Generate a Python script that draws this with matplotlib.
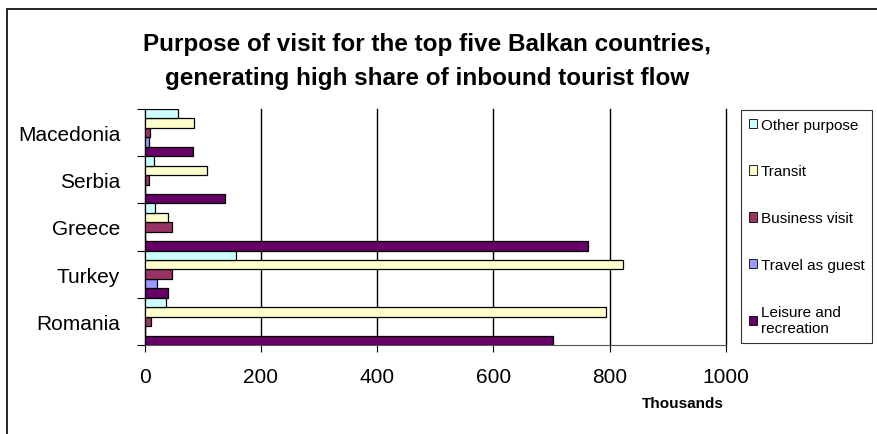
import matplotlib
matplotlib.use("Agg")
import matplotlib.pyplot as plt
import matplotlib.patches as mpatches
import numpy as np

plt.rcParams['font.family'] = ['Liberation Sans', 'DejaVu Sans']

# countries from bottom to top
countries = ['Romania', 'Turkey', 'Greece', 'Serbia', 'Macedonia']

# series (bottom to top inside each country group)
series = ['Leisure and\nrecreation', 'Travel as guest', 'Business visit', 'Transit', 'Other purpose']
leisure = [702, 40, 763, 139, 84]
guest = [0, 22, 0, 0, 8]
business = [11, 48, 47, 7, 10]
transit = [794, 823, 41, 108, 85]
other = [37, 157, 18, 16, 57]
colors = ['#660066', '#9999FF', '#993366', '#FFFFCC', '#CCFFFF']

xticks = [0, 200, 400, 600, 800, 1000]

W, H = 877, 435
fig = plt.figure(figsize=(W / 100, H / 100), dpi=100)
ax = fig.add_axes([144.5 / W, 1 - 346 / H, (726 - 144.5) / W, (346 - 110) / H])

values = [leisure, guest, business, transit, other]
n = len(series)
base = np.arange(len(countries))
for j, (vals, col) in enumerate(zip(values, colors)):
    ax.barh(base + (j + 0.5) / n, vals, height=1 / n, color=col,
            edgecolor='black', linewidth=0.9, zorder=3)

ax.set_xlim(0, 1000)
ax.set_ylim(0, len(countries))
ax.set_xticks(xticks)
ax.set_xticklabels([str(v) for v in xticks], fontsize=15)
ax.tick_params(axis='x', length=5, width=0.8, pad=11)
ax.xaxis.grid(True, color='black', linewidth=1.0, zorder=0)
for gl in ax.get_xgridlines():
    gl.set_clip_on(False)

ax.set_yticks(np.arange(len(countries) + 1))
ax.set_yticklabels([])
ax.tick_params(axis='y', which='major', length=6, width=0.8)
ax.set_yticks(base + 0.5, minor=True)
ax.set_yticklabels(countries, minor=True, fontsize=15)
ax.tick_params(axis='y', which='minor', length=0, pad=17.5)

for s in ['top', 'right']:
    ax.spines[s].set_visible(False)
ax.spines['left'].set_color('#555555')
ax.spines['bottom'].set_color('#555555')

fig.text(683 / W, 1 - 404 / H, 'Thousands', fontsize=11, fontweight='bold',
         ha='center', va='center')

fig.text(427 / W, 1 - 45 / H, 'Purpose of visit for the top five Balkan countries,',
         fontsize=17.5, fontweight='bold', ha='center', va='center')
fig.text(427 / W, 1 - 78 / H, 'generating high share of inbound tourist flow',
         fontsize=17.5, fontweight='bold', ha='center', va='center')

handles = [mpatches.Patch(facecolor=c, edgecolor='black', linewidth=0.6)
           for c in colors[::-1]]
leg = fig.legend(handles, series[::-1], loc='upper left',
                 bbox_to_anchor=(741 / W, 1 - 111 / H), fontsize=11,
                 frameon=True, fancybox=False, handlelength=0.55, handleheight=0.55,
                 handletextpad=0.25, labelspacing=2.15, borderpad=0.5,
                 borderaxespad=0)
leg.get_frame().set_edgecolor('black')
leg.get_frame().set_linewidth(0.8)

fig.patches.append(mpatches.Rectangle((7 / W, -0.1), 2, 1 - 10 / H + 0.1,
                                      transform=fig.transFigure, fill=False,
                                      edgecolor='black', linewidth=1.2))

fig.savefig('out.png', dpi=100)
